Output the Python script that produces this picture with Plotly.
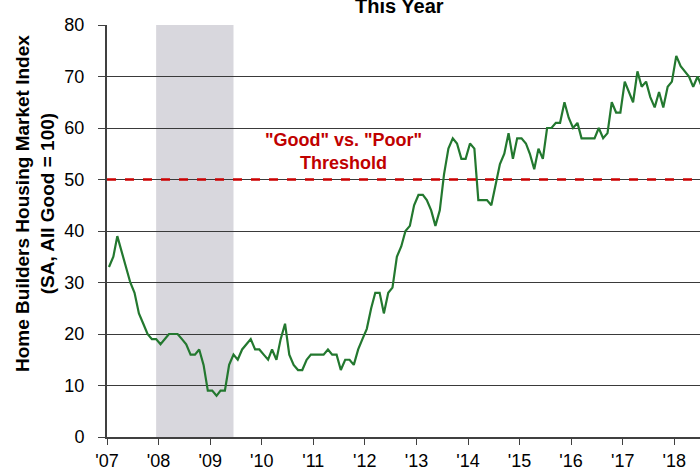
import plotly.graph_objects as go
import pandas as pd

# Monthly index values (mid-month points), Dec 2006 .. Jun 2018
start_month = "2006-12-15"
index_values = [
    33,                                              # Dec 2006
    35, 39, 36, 33, 30, 28, 24, 22, 20, 19, 19, 18,  # 2007
    19, 20, 20, 20, 19, 18, 16, 16, 17, 14, 9, 9,    # 2008
    8, 9, 9, 14, 16, 15, 17, 18, 19, 17, 17, 16,     # 2009
    15, 17, 15, 19, 22, 16, 14, 13, 13, 15, 16, 16,  # 2010
    16, 16, 17, 16, 16, 13, 15, 15, 14, 17, 19, 21,  # 2011
    25, 28, 28, 24, 28, 29, 35, 37, 40, 41, 45, 47,  # 2012
    47, 46, 44, 41, 44, 51, 56, 58, 57, 54, 54, 57,  # 2013
    56, 46, 46, 46, 45, 49, 53, 55, 59, 54, 58, 58,  # 2014
    57, 55, 52, 56, 54, 60, 60, 61, 61, 65, 62, 60,  # 2015
    61, 58, 58, 58, 58, 60, 58, 59, 65, 63, 63, 69,  # 2016
    67, 65, 71, 68, 69, 66, 64, 67, 64, 68, 69, 74,  # 2017
    72, 71, 70, 68, 70, 68,                          # 2018
]
dates = pd.date_range(start=start_month, periods=len(index_values), freq="MS") + pd.Timedelta(days=14)

threshold = 50
recession_start = "2007-12-15"
recession_end = "2009-06-15"

tick_dates = pd.date_range("2007-01-01", "2018-01-01", freq="YS")
tick_labels = ["'07", "'08", "'09", "'10", "'11", "'12", "'13", "'14", "'15", "'16", "'17", "'18"]
y_ticks = [0, 10, 20, 30, 40, 50, 60, 70, 80]

x_range = ["2007-01-01", "2018-07-02"]

FONT = "Liberation Sans, Arial"
PLOT_W = 593
PLOT_H = 412

fig = go.Figure()
fig.add_trace(go.Scatter(
    x=dates, y=index_values, mode="lines",
    line=dict(color="#23782F", width=2.2),
    hoverinfo="skip", showlegend=False,
))

fig.add_shape(type="rect", xref="x", yref="paper",
              x0=recession_start, x1=recession_end, y0=0, y1=1,
              fillcolor="#D8D7DD", line=dict(width=0), layer="between")
fig.add_shape(type="line", xref="paper", yref="y",
              x0=0, x1=1, y0=threshold, y1=threshold,
              line=dict(color="#CC0000", width=2.5, dash="dash"), layer="above")

fig.add_annotation(text="<b>\"Good\" vs. \"Poor\"<br>Threshold</b>",
                   xref="x", yref="y", x="2011-08-05", y=55.4,
                   showarrow=False, font=dict(family=FONT, size=18, color="#C00000"),
                   align="center")
fig.add_annotation(text="<b>Home Builders Housing Market Index</b><br><b>(SA, All Good = 100)</b>",
                   xref="paper", yref="paper", x=(35 - 107) / PLOT_W, y=(437 - 204) / PLOT_H,
                   xanchor="center", yanchor="middle",
                   textangle=-90, showarrow=False,
                   font=dict(family=FONT, size=19, color="#000000"),
                   align="center")
fig.add_annotation(text="<b>This Year</b>",
                   xref="paper", yref="paper", x=(399 - 107) / PLOT_W, y=(437 - 19) / PLOT_H,
                   xanchor="center", yanchor="bottom", showarrow=False,
                   font=dict(family=FONT, size=20, color="#000000"))

fig.update_layout(
    width=700, height=469,
    margin=dict(l=107, r=0, t=25, b=32, autoexpand=False),
    plot_bgcolor="white", paper_bgcolor="white",
    font=dict(family=FONT, size=18, color="#000000"),
    showlegend=False,
)
fig.update_xaxes(
    range=x_range, tickvals=tick_dates, ticktext=tick_labels,
    showgrid=False, showline=True, linecolor="#404040", linewidth=2,
    ticks="outside", ticklen=6, tickcolor="#404040", tickwidth=1,
    tickfont=dict(size=18), zeroline=False, automargin=False,
)
fig.update_yaxes(
    range=[0, 80], tickvals=y_ticks,
    showgrid=True, gridcolor="#3a3a3a", gridwidth=1,
    showline=True, linecolor="#404040", linewidth=2,
    ticks="outside", ticklen=7, tickcolor="#404040", tickwidth=1,
    tickfont=dict(size=18), ticklabelstandoff=10, zeroline=False, automargin=False,
)

fig.write_html("out.html", config={"displayModeBar": False},
               post_script="document.body.style.margin='0';")
